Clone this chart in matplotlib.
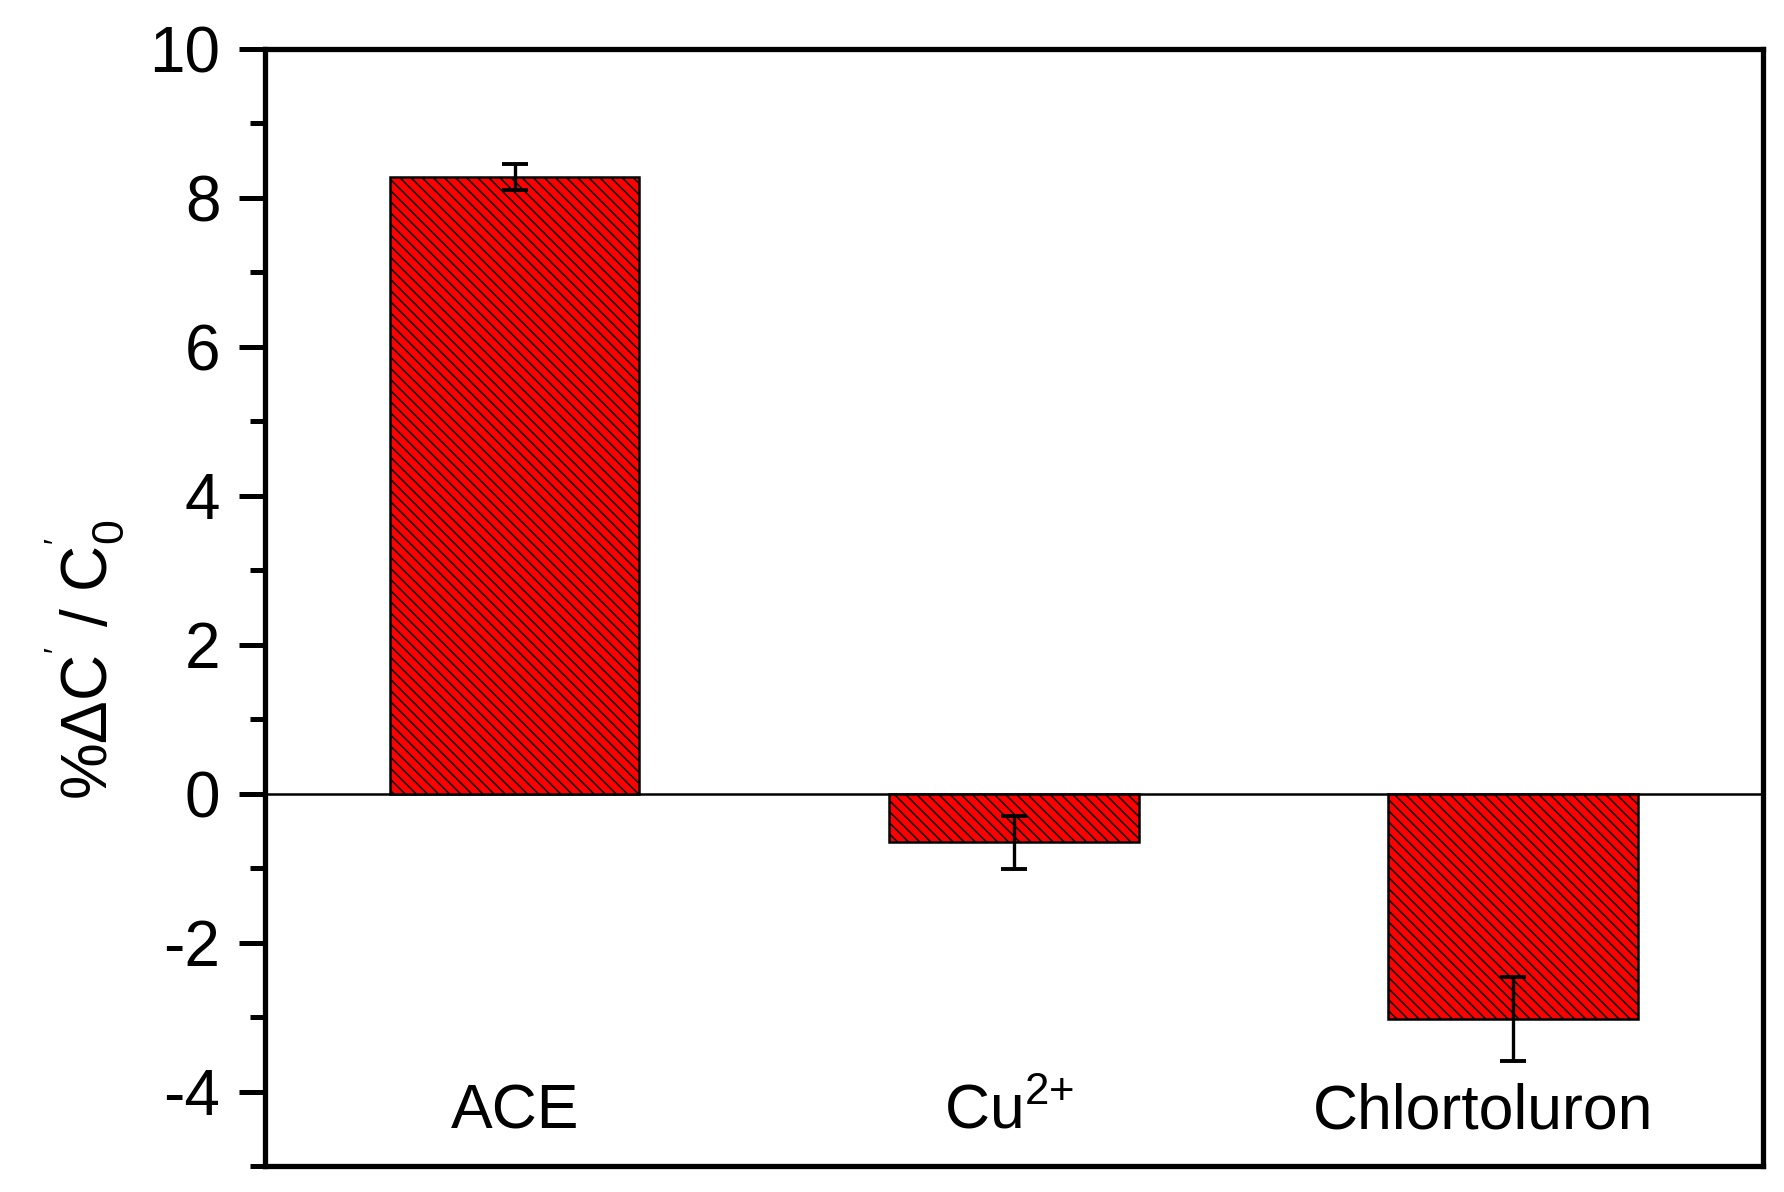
import matplotlib.pyplot as plt
import numpy as np

plt.rcParams['font.family'] = ['Liberation Sans', 'DejaVu Sans']
plt.rcParams['mathtext.default'] = 'regular'
plt.rcParams['axes.unicode_minus'] = False
plt.rcParams['hatch.linewidth'] = 1.1
plt.rcParams['hatch.color'] = 'black'

# data
labels = ['ACE', 'Cu$^{2{+}}$', 'Chlortoluron']
values = [8.28, -0.655, -3.03]
errors = [0.18, 0.355, 0.565]

x = np.arange(1, len(values) + 1)

fig = plt.figure(figsize=(17.84, 11.92), dpi=100)
ax = fig.add_axes([0.1485, 0.0218, 0.8397, 0.9371])

ax.bar(x, values, width=0.5, color='#ff0000', edgecolor='black', linewidth=1.8,
       hatch='\\\\\\', zorder=2)
ax.errorbar(x, values, yerr=errors, fmt='none', ecolor='black', elinewidth=2.4,
            capsize=9.5, capthick=2.8, zorder=3)
ax.axhline(0, color='black', linewidth=1.8, zorder=1)

# category names sit inside the plot near the bottom
shift = [0, -0.01, -0.06]
for xi, lab, s in zip(x, labels, shift):
    ax.text(xi + s, -4.27, lab, ha='center', va='center', fontsize=45)

ax.set_xlim(0.5, 3.5)
ax.set_ylim(-5, 10)
ax.set_yticks([-4, -2, 0, 2, 4, 6, 8, 10])
ax.set_yticks(np.arange(-5, 10, 1), minor=True)
ax.set_xticks([])

ax.tick_params(axis='y', which='major', direction='out', length=19, width=3.6,
               labelsize=46, pad=13)
ax.tick_params(axis='y', which='minor', direction='out', length=11, width=3.6)
for sp in ax.spines.values():
    sp.set_linewidth(3.8)

ax.set_ylabel("%ΔC$^{'}$ / C$_{0}^{'}$", fontsize=46)
ax.yaxis.set_label_coords(-0.093, 0.453)

plt.savefig('out.png', dpi=100)
